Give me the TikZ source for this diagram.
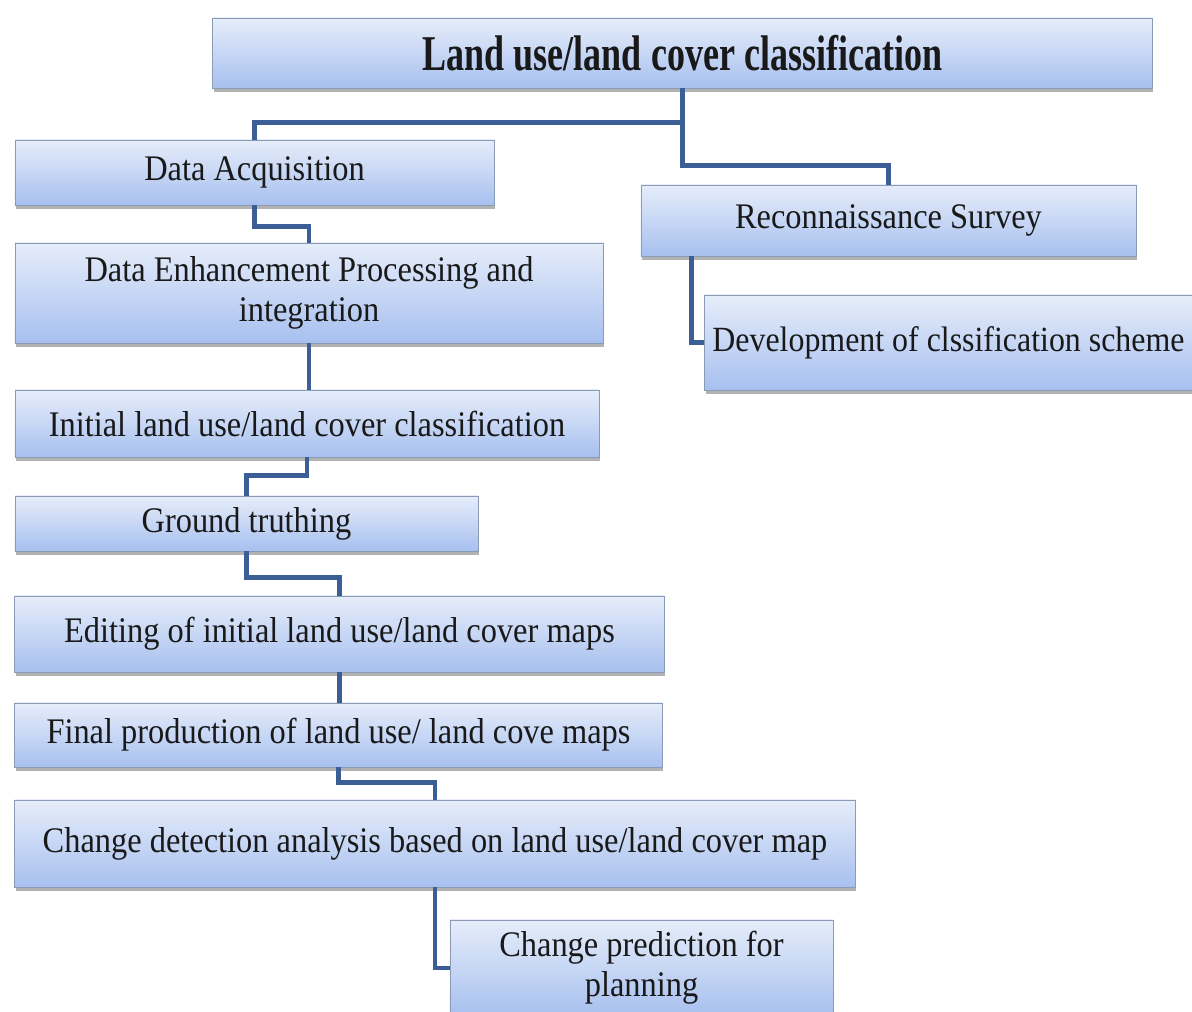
\documentclass[tikz,border=0pt]{standalone}
\usepackage{fontspec}
\setmainfont{Liberation Serif}[FakeStretch=0.9]
\newfontfamily\titlefont{Liberation Serif}[FakeStretch=0.72]
\usetikzlibrary{shadows}

\definecolor{boxtop}{HTML}{E6EDFA}
\definecolor{boxbot}{HTML}{A7C0EF}
\definecolor{boxline}{HTML}{8C9BB5}
\definecolor{linkblue}{HTML}{3B5E96}

\tikzset{
    box/.style={draw=boxline, line width=0.6pt, top color=boxtop, bottom color=boxbot,
        inner sep=0pt, align=center, text=black!90,
        font=\fontsize{25.6}{28.5}\selectfont,
        drop shadow={shadow xshift=0.03cm, shadow yshift=-0.09cm, opacity=0.6}},
    link/.style={draw=linkblue, line width=3.4pt}
}

\begin{document}
\begin{tikzpicture}[x=0.025cm, y=-0.025cm]
            \useasboundingbox[fill=white] (0, 0) rectangle (1192, 1012);
            \clip (0, 0) rectangle (1192, 1012);

            %%draw the boxes
            \node[box, minimum width=23.475cm, minimum height=1.75cm,
                font=\titlefont\bfseries\fontsize{35.6}{38}\selectfont] (title) at(682.5, 53){Land use/land cover classification};
            \node[box, minimum width=11.975cm, minimum height=1.625cm] (acq) at(254.5, 172.5){Data Acquisition};
            \node[box, minimum width=12.375cm, minimum height=1.775cm] (recon) at(888.5, 220.5){Reconnaissance Survey};
            \node[box, anchor=west, minimum height=2.375cm, text width=13.2cm, inner xsep=0.2cm,
                align=flush left, font=\fontsize{25.2}{28}\selectfont] (scheme) at(704, 342.5){Development of clssification scheme};
            \node[box, minimum width=14.7cm, minimum height=2.5cm] (enh) at(309, 293){Data Enhancement Processing and\\ integration};
            \node[box, minimum width=14.6cm, minimum height=1.675cm] (init) at(307, 423.5){Initial land use/land cover classification};
            \node[box, minimum width=11.575cm, minimum height=1.375cm] (ground) at(246.5, 523.5){Ground truthing};
            \node[box, minimum width=16.225cm, minimum height=1.9cm] (edit) at(339.5, 634){Editing of initial land use/land cover maps};
            \node[box, minimum width=16.175cm, minimum height=1.6cm] (final) at(338.5, 735){Final production of land use/ land cove maps};
            \node[box, minimum width=21cm, minimum height=2.175cm] (change) at(435, 843.5){Change detection analysis based on land use/land cover map};
            \node[box, minimum width=9.575cm, minimum height=2.4cm] (pred) at(641.5, 968){Change prediction for\\ planning};

            %%draw the links
            \draw[link] (title.south) -- ++(0, 34) -| (acq.north);
            \draw[link] (title.south) -- ++(0, 77) -| (recon.north);
            \draw[link] ([xshift=1.275cm]recon.south west) |- (scheme.west);
            \draw[link] (acq.south) -- ++(0, 21) -| (enh.north);
            \draw[link] (enh.south) -- (enh.south |- init.north);
            \draw[link] (init.south) -- ++(0, 18) -| (ground.north);
            \draw[link] (ground.south) -- ++(0, 26) -| (edit.north);
            \draw[link] (edit.south) -- (edit.south |- final.north);
            \draw[link] (final.south) -- ++(0, 15) -| (change.north);
            \draw[link] (change.south) |- (pred.west);

        \end{tikzpicture}
\end{document}
